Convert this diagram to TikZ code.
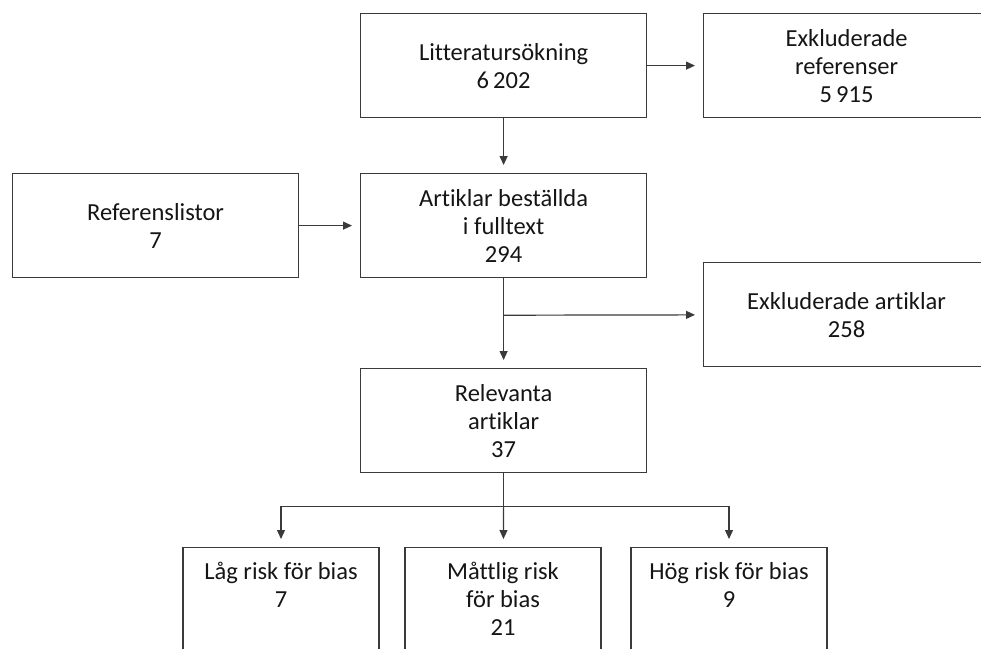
\documentclass[tikz,border=0pt]{standalone}
\usepackage{fontspec}
\setmainfont{Carlito}[Ligatures={NoCommon,NoContextual}]
\usetikzlibrary{arrows.meta}
\definecolor{linec}{HTML}{3A3A3A}
\definecolor{txtc}{HTML}{151515}
\tikzset{
  boxnode/.style={draw=linec, line width=1.2pt, minimum width=286pt, minimum height=104pt,
    align=center, inner sep=0pt, text=txtc, font=\fontsize{24.5}{28}\selectfont, anchor=north west},
  lownode/.style={draw=linec, line width=1.2pt, minimum width=196pt, inner xsep=0pt, inner ysep=15pt,
    align=center, text=txtc, font=\fontsize{24.5}{28}\selectfont, anchor=north, text depth=70pt},
  arr/.style={draw=linec, line width=1.2pt, -{Triangle[length=9pt,width=8pt]}, shorten >=8pt},
  ln/.style={draw=linec, line width=1.2pt}
}
\begin{document}
\begin{tikzpicture}[x=1pt,y=-1pt]
\useasboundingbox (0,0) rectangle (981,648);
\clip (0,0) rectangle (981,648);
\node[boxnode] (lit) at (360,13) {Litteratursökning\\6\,202};
\node[boxnode] (exref) at (703,13) {Exkluderade\\referenser\\5\,915};
\node[boxnode] (ref) at (12,173) {Referenslistor\\7};
\node[boxnode] (art) at (360,173) {Artiklar beställda\\i fulltext\\294};
\node[boxnode] (exart) at (703,262) {Exkluderade artiklar\\258};
\node[boxnode] (rel) at (360,368) {Relevanta\\artiklar\\37};
\node[lownode] (low) at (281,547) {Låg risk för bias\\7};
\node[lownode] (mod) at (503,547) {Måttlig risk\\för bias\\21};
\node[lownode] (high) at (729,547) {Hög risk för bias\\9};
\coordinate (b1) at ([yshift=-37pt]art.south);
\coordinate (b2) at ([yshift=-33pt]rel.south);
\draw[arr] (lit) -- (exref);
\draw[arr] (lit) -- (art);
\draw[arr] (ref) -- (art);
\draw[arr] (art) -- (rel);
\draw[arr] (b1) -- (exart);
\draw[ln] (rel.south) -- (b2);
\draw[arr] (b2) -| (low);
\draw[arr] (b2) -- (mod);
\draw[arr] (b2) -| (high);
\end{tikzpicture}
\end{document}
